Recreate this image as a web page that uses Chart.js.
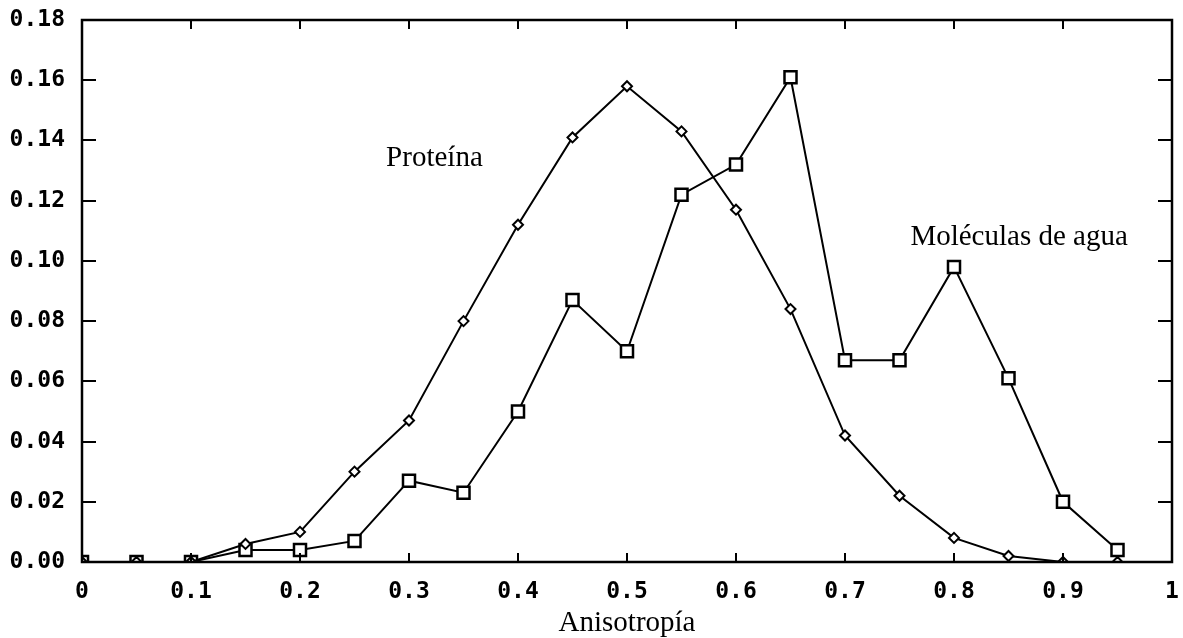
<!DOCTYPE html>
<html lang="es">
<head>
<meta charset="utf-8">
<title>Anisotropía</title>
<script src="https://cdn.jsdelivr.net/npm/chart.js@4.4.1/dist/chart.umd.min.js"></script>
<style>
  html, body { margin: 0; padding: 0; background: #fff; }
  canvas { display: block; }
</style>
</head>
<body>
<canvas id="grafica" width="1183" height="638"></canvas>
<script>
// --- Datos ---
const anisotropia = [0, 0.05, 0.1, 0.15, 0.2, 0.25, 0.3, 0.35, 0.4, 0.45, 0.5, 0.55, 0.6, 0.65, 0.7, 0.75, 0.8, 0.85, 0.9, 0.95];
const proteina = [0, 0, 0, 0.006, 0.010, 0.030, 0.047, 0.080, 0.112, 0.141, 0.158, 0.143, 0.117, 0.084, 0.042, 0.022, 0.008, 0.002, 0.000, 0.000];
const agua = [0, 0, 0, 0.004, 0.004, 0.007, 0.027, 0.023, 0.050, 0.087, 0.070, 0.122, 0.132, 0.161, 0.067, 0.067, 0.098, 0.061, 0.020, 0.004];

// etiquetas dentro del gráfico: [texto, x, y] en unidades de datos
const anotaciones = [
  ['Proteína', 0.279, 0.134],
  ['Moléculas de agua', 0.76, 0.1078]
];

const fuenteEjes = { family: '"DejaVu Sans Mono", monospace', size: 23, weight: 'bold' };
const fuenteTexto = '29px "Liberation Serif", "Times New Roman", serif';

const toPoints = (xs, ys) => xs.map((x, i) => ({ x: x, y: ys[i] }));

// quitar el relleno automático de las escalas (lo fija layout.padding)
const sinRelleno = s => { s.paddingTop = 0; s.paddingBottom = 0; s.paddingLeft = 0; s.paddingRight = 0; };

// --- Marco y marcas hacia dentro ---
const marcoPlugin = {
  id: 'marco',
  afterDraw(chart) {
    const { ctx, chartArea: a, scales } = chart;
    ctx.save();
    ctx.strokeStyle = '#000';
    ctx.lineWidth = 2.5;
    ctx.strokeRect(a.left, a.top, a.right - a.left, a.bottom - a.top);

    ctx.lineWidth = 2;
    ctx.beginPath();
    scales.x.ticks.forEach(t => {
      const px = Math.round(scales.x.getPixelForValue(t.value));
      ctx.moveTo(px, a.bottom); ctx.lineTo(px, a.bottom - 9);
      ctx.moveTo(px, a.top); ctx.lineTo(px, a.top + 9);
    });
    scales.y.ticks.forEach(t => {
      const py = Math.round(scales.y.getPixelForValue(t.value));
      ctx.moveTo(a.left, py); ctx.lineTo(a.left + 14, py);
      ctx.moveTo(a.right, py); ctx.lineTo(a.right - 14, py);
    });
    ctx.stroke();

    // textos de las series
    ctx.fillStyle = '#000';
    ctx.font = fuenteTexto;
    ctx.textAlign = 'left';
    ctx.textBaseline = 'middle';
    anotaciones.forEach(([texto, x, y]) => {
      ctx.fillText(texto, scales.x.getPixelForValue(x), scales.y.getPixelForValue(y));
    });
    ctx.restore();
  }
};

new Chart(document.getElementById('grafica'), {
  type: 'line',
  data: {
    datasets: [
      {
        label: 'Proteína',
        data: toPoints(anisotropia, proteina),
        borderColor: '#000',
        borderWidth: 2,
        pointStyle: 'rectRot',
        pointRadius: 5,
        pointBorderWidth: 2,
        pointBackgroundColor: '#fff',
        pointBorderColor: '#000',
        tension: 0
      },
      {
        label: 'Moléculas de agua',
        data: toPoints(anisotropia, agua),
        borderColor: '#000',
        borderWidth: 2,
        pointStyle: 'rect',
        pointRadius: 8.5,
        pointBorderWidth: 2.5,
        pointBackgroundColor: '#fff',
        pointBorderColor: '#000',
        tension: 0
      }
    ]
  },
  options: {
    responsive: false,
    animation: false,
    devicePixelRatio: 1,
    layout: { padding: { top: 20, right: 7, left: 0, bottom: 0 } },
    plugins: { legend: { display: false }, tooltip: { enabled: false } },
    scales: {
      x: {
        type: 'linear',
        min: 0,
        max: 1,
        grid: { display: false, drawTicks: false },
        border: { display: false },
        ticks: {
          stepSize: 0.1,
          color: '#000',
          font: fuenteEjes,
          padding: 16,
          maxRotation: 0,
          callback: v => (Math.abs(v) < 1e-9 || Math.abs(v - 1) < 1e-9) ? String(Math.round(v)) : v.toFixed(1)
        },
        title: {
          display: true,
          text: 'Anisotropía',
          color: '#000',
          font: { family: '"Liberation Serif", "Times New Roman", serif', size: 29, lineHeight: 1 },
          padding: { top: 0, bottom: 0 }
        },
        afterFit: s => { s.height = 76; sinRelleno(s); }
      },
      y: {
        min: 0,
        max: 0.18,
        grid: { display: false, drawTicks: false },
        border: { display: false },
        ticks: {
          stepSize: 0.02,
          color: '#000',
          font: fuenteEjes,
          padding: 17,
          callback: v => v.toFixed(2)
        },
        afterFit: s => { s.width = 82; sinRelleno(s); }
      }
    }
  },
  plugins: [marcoPlugin]
});
</script>
</body>
</html>
